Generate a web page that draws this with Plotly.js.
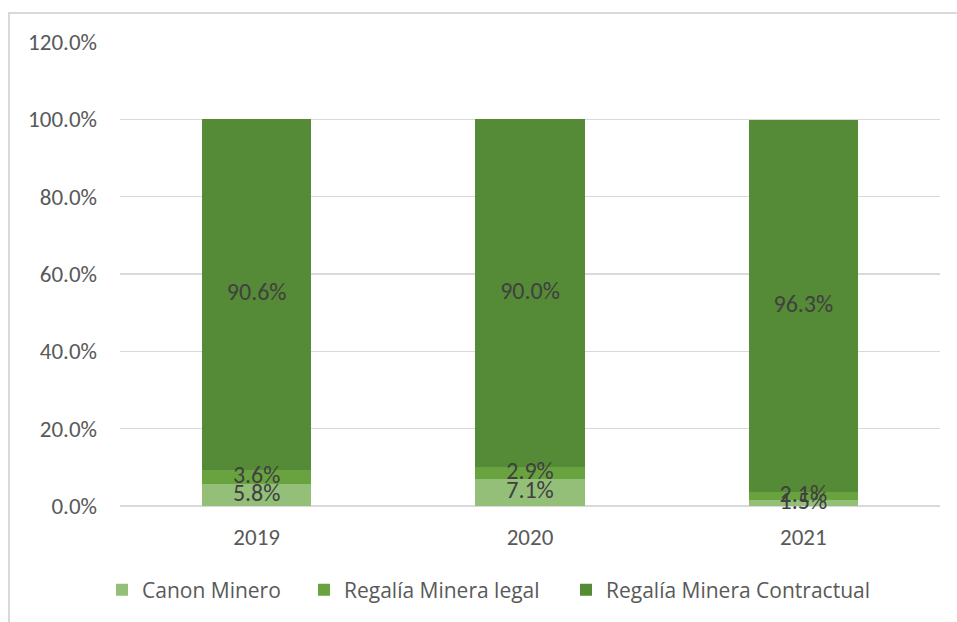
<!DOCTYPE html>
<html>
<head>
<meta charset="utf-8">
<script src="https://cdn.plot.ly/plotly-3.0.1.min.js"></script>
<style>
html,body{margin:0;padding:0;background:#fff;}
#wrap{position:relative;width:957px;height:622px;}
#frame{position:absolute;left:8px;top:12px;width:960px;height:620px;border-top:2px solid #d9d9d9;border-left:2px solid #d9d9d9;pointer-events:none;z-index:5;}
#chart{position:absolute;left:0;top:0;width:957px;height:622px;}
</style>
</head>
<body>
<div id="wrap"><div id="chart"></div><div id="frame"></div></div>
<script>
const years = ['2019', '2020', '2021'];
const canonMinero = [5.8, 7.1, 1.5];
const regaliaLegal = [3.6, 2.9, 2.1];
const regaliaContractual = [90.6, 90.0, 96.3];
const seriesNames = ['Canon Minero', 'Regalía Minera legal', 'Regalía Minera Contractual'];
const yTickVals = [0, 20, 40, 60, 80, 100, 120];
const yTickText = ['0.0%', '20.0%', '40.0%', '60.0%', '80.0%', '100.0%', '120.0%'];

const colors = ['#93bf79', '#69a340', '#558a36'];
const font = 'Carlito, Lato, "Open Sans", sans-serif';
const legendNames = ['legend', 'legend2', 'legend3'];
const allSeries = [canonMinero, regaliaLegal, regaliaContractual];

function mk(vals, i) {
  return {
    type: 'bar', x: years, y: vals, name: seriesNames[i],
    legend: legendNames[i],
    marker: {color: colors[i], line: {width: 0}},
    hoverinfo: 'none'
  };
}
const data = allSeries.map((s, i) => mk(s, i));

// data labels centred in each stacked segment (drawn above all bars)
const lx = [], ly = [], lt = [];
years.forEach((yr, j) => {
  let base = 0;
  allSeries.forEach(s => {
    lx.push(yr); ly.push(base + s[j] / 2); lt.push(s[j].toFixed(1) + '%');
    base += s[j];
  });
});
data.push({type: 'scatter', mode: 'text', x: lx, y: ly, text: lt,
  textposition: 'middle center', cliponaxis: false, showlegend: false, hoverinfo: 'none',
  textfont: {family: font, size: 24, color: '#404040'}});

function leg(xpx) {
  return {orientation: 'h', x: (xpx - 120) / 820, xanchor: 'left', y: -0.181, yanchor: 'middle',
          font: {family: '"Open Sans", sans-serif', size: 21, color: '#595959'},
          bgcolor: 'rgba(0,0,0,0)', borderwidth: 0, itemwidth: 30};
}
const layout = {
  width: 957, height: 622,
  margin: {l: 120, r: 17, t: 42, b: 116, autoexpand: false},
  barmode: 'stack', bargap: 0.6,
  paper_bgcolor: '#fff', plot_bgcolor: '#fff',
  showlegend: true,
  legend: leg(102), legend2: leg(304), legend3: leg(566),
  xaxis: {type: 'category', showgrid: false, zeroline: false, showline: false,
          ticks: '', ticklabelstandoff: 15,
          tickfont: {family: font, size: 23, color: '#595959'}},
  yaxis: {range: [0, 120], tickvals: yTickVals, ticktext: yTickText,
          showgrid: true, gridcolor: '#d9d9d9', gridwidth: 1.5, zeroline: true, zerolinecolor: '#d9d9d9', zerolinewidth: 1.5,
          showline: false, ticks: '', ticklabelstandoff: 22,
          tickfont: {family: font, size: 23, color: '#595959'}},
  font: {family: font}
};
Plotly.newPlot('chart', data, layout, {displayModeBar: false, staticPlot: true});
</script>
</body>
</html>
